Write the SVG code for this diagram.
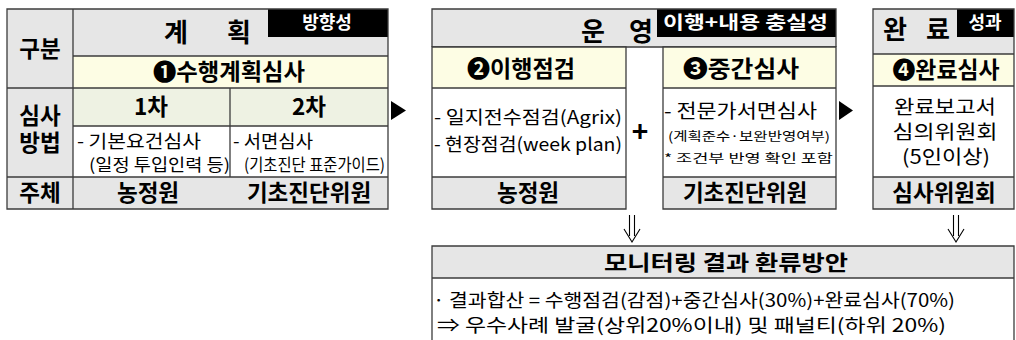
<svg xmlns="http://www.w3.org/2000/svg" width="1016" height="340" viewBox="0 0 1016 340">
<style>
text{font-family:"Noto Sans CJK KR","Noto Sans",sans-serif;fill:#000}
.h{font-size:22.5px;font-weight:bold;text-anchor:middle}
.t{font-size:26px;font-weight:bold;text-anchor:middle}
.w{fill:#fff;font-weight:bold;font-size:18px}
.n{font-size:18px}
.s{font-size:12.5px}
.c{text-anchor:middle}
.ln{stroke:#3c3c3c;stroke-width:1.3;fill:none}
.gray{fill:#e6e6e6}
.yel{fill:#fdfde4}
.grn{fill:#eef2e3}
.wht{fill:#fff}
.blk{fill:#000}
</style>
<g id="plan">
<rect x="7" y="9" width="381" height="200" class="wht"/>
<rect x="7" y="9" width="66" height="200" class="gray"/>
<rect x="73" y="9" width="315" height="47" class="gray"/>
<rect x="268" y="9" width="120" height="28" class="blk"/>
<rect x="73" y="56" width="315" height="32" class="yel"/>
<rect x="73" y="88" width="315" height="38" class="grn"/>
<rect x="73" y="177" width="315" height="32" class="gray"/>
<path class="ln" d="M7 9H388V209H7Z M73 9V209 M73 56H388 M7 88H388 M73 126H388 M7 177H388 M230 88V177"/>
<text class="t" y="42"><tspan x="179">계</tspan> <tspan x="239">획</tspan></text>
<text class="w c" x="327" y="29">방향성</text>
<text class="h" x="40" y="57">구분</text>
<text class="h" x="229" y="80" textLength="152" lengthAdjust="spacingAndGlyphs">❶수행계획심사</text>
<text class="h" x="151" y="115">1차</text>
<text class="h" x="309" y="115">2차</text>
<text class="h"><tspan x="40" y="124">심사</tspan><tspan x="40" y="151">방법</tspan></text>
<text class="n" x="77" y="148" textLength="124" lengthAdjust="spacingAndGlyphs">-  기본요건심사</text>
<text class="n" x="89" y="171" style="font-size:16.5px" textLength="141" lengthAdjust="spacingAndGlyphs">(일정 투입인력 등)</text>
<text class="n" x="233" y="148" textLength="80" lengthAdjust="spacingAndGlyphs">-  서면심사</text>
<text class="n" x="244" y="171" style="font-size:16.5px" textLength="141" lengthAdjust="spacingAndGlyphs">(기초진단 표준가이드)</text>
<text class="h" x="40" y="201">주체</text>
<text class="h" x="148" y="201">농정원</text>
<text class="h" x="309" y="201">기초진단위원</text>
</g>
<g id="operation">
<rect x="432" y="9" width="404" height="38" class="gray"/>
<rect x="657" y="9" width="179" height="28" class="blk"/>
<text class="t" y="41"><tspan x="596">운</tspan> <tspan x="641">영</tspan></text>
<text class="w" x="663" y="29" textLength="165" lengthAdjust="spacingAndGlyphs">이행+내용 충실성</text>
<path class="ln" d="M432 47V9H836V47 M432 47H836"/>
</g>
<g id="check">
<rect x="432" y="47" width="194" height="41" class="yel"/>
<rect x="432" y="88" width="194" height="89" class="wht"/>
<rect x="432" y="177" width="194" height="32" class="gray"/>
<path class="ln" d="M432 47H626V209H432Z M432 88H626 M432 177H626"/>
<text class="h" x="521" y="77" textLength="108" lengthAdjust="spacingAndGlyphs">❷이행점검</text>
<text class="n" x="434" y="124" textLength="188" lengthAdjust="spacingAndGlyphs">-  일지전수점검(Agrix)</text>
<text class="n" x="434" y="151" textLength="188" lengthAdjust="spacingAndGlyphs">-  현장점검(week plan)</text>
<text class="h" x="528" y="201">농정원</text>
</g>
<g id="midreview">
<rect x="663" y="47" width="173" height="41" class="yel"/>
<rect x="663" y="88" width="173" height="89" class="wht"/>
<rect x="663" y="177" width="173" height="32" class="gray"/>
<path class="ln" d="M663 47H836V209H663Z M663 88H836 M663 177H836"/>
<text class="h" x="741" y="77" textLength="116" lengthAdjust="spacingAndGlyphs">❸중간심사</text>
<text class="n" x="664" y="118" style="font-size:19px" textLength="153" lengthAdjust="spacingAndGlyphs">-  전문가서면심사</text>
<text class="s" x="668" y="141" textLength="162" lengthAdjust="spacingAndGlyphs">(계획준수·보완반영여부)</text>
<text class="s" x="664" y="163" textLength="169" lengthAdjust="spacingAndGlyphs">* 조건부 반영 확인 포함</text>
<text class="h" x="745" y="201">기초진단위원</text>
</g>
<g id="completion">
<rect x="873" y="9" width="141" height="45" class="gray"/>
<rect x="957" y="9" width="57" height="28" class="blk"/>
<rect x="873" y="54" width="141" height="32" class="yel"/>
<rect x="873" y="86" width="141" height="91" class="wht"/>
<rect x="873" y="177" width="141" height="32" class="gray"/>
<path class="ln" d="M873 9H1014V209H873Z M873 54H1014 M873 86H1014 M873 177H1014"/>
<text class="t" y="39"><tspan x="898">완</tspan> <tspan x="938">료</tspan></text>
<text class="w c" x="985" y="29">성과</text>
<text class="h" x="946" y="78" textLength="107" lengthAdjust="spacingAndGlyphs">❹완료심사</text>
<text class="n c" x="945" y="114" style="font-size:19.5px" textLength="102" lengthAdjust="spacingAndGlyphs">완료보고서</text>
<text class="n c" x="945" y="139" style="font-size:19.5px" textLength="105" lengthAdjust="spacingAndGlyphs">심의위원회</text>
<text class="n c" x="946" y="164" style="font-size:19.5px" textLength="88" lengthAdjust="spacingAndGlyphs">(5인이상)</text>
<text class="h" x="944" y="201">심사위원회</text>
</g>
<g id="monitoring">
<rect x="432" y="246" width="582" height="32" class="gray"/>
<rect x="432" y="278" width="582" height="70" class="wht"/>
<path class="ln" d="M432 345V246H1014V345 M432 278H1014"/>
<text class="h" x="726" y="270" style="font-size:21px" textLength="244" lengthAdjust="spacingAndGlyphs">모니터링 결과 환류방안</text>
<text class="n" x="433" y="307" textLength="522" lengthAdjust="spacingAndGlyphs">·  결과합산 = 수행점검(감점)+중간심사(30%)+완료심사(70%)</text>
<text class="n" x="437" y="332" textLength="509" lengthAdjust="spacingAndGlyphs">⇒ 우수사례 발굴(상위20%이내) 및 패널티(하위 20%)</text>
</g>
<g id="connectors">
<polygon points="391,101 406,110.5 391,120" fill="#000"/>
<polygon points="839,101 853,110.5 839,120" fill="#000"/>
<text x="640" y="142" style="font-size:28px;font-weight:bold" text-anchor="middle">+</text>
<path d="M629.5 215V236 M634.5 215V236 M624 229L632 242L640 229" fill="none" stroke="#000" stroke-width="1.1"/>
<path d="M953.5 215V236 M958.5 215V236 M948 229L956 242L964 229" fill="none" stroke="#000" stroke-width="1.1"/>
</g>
</svg>
